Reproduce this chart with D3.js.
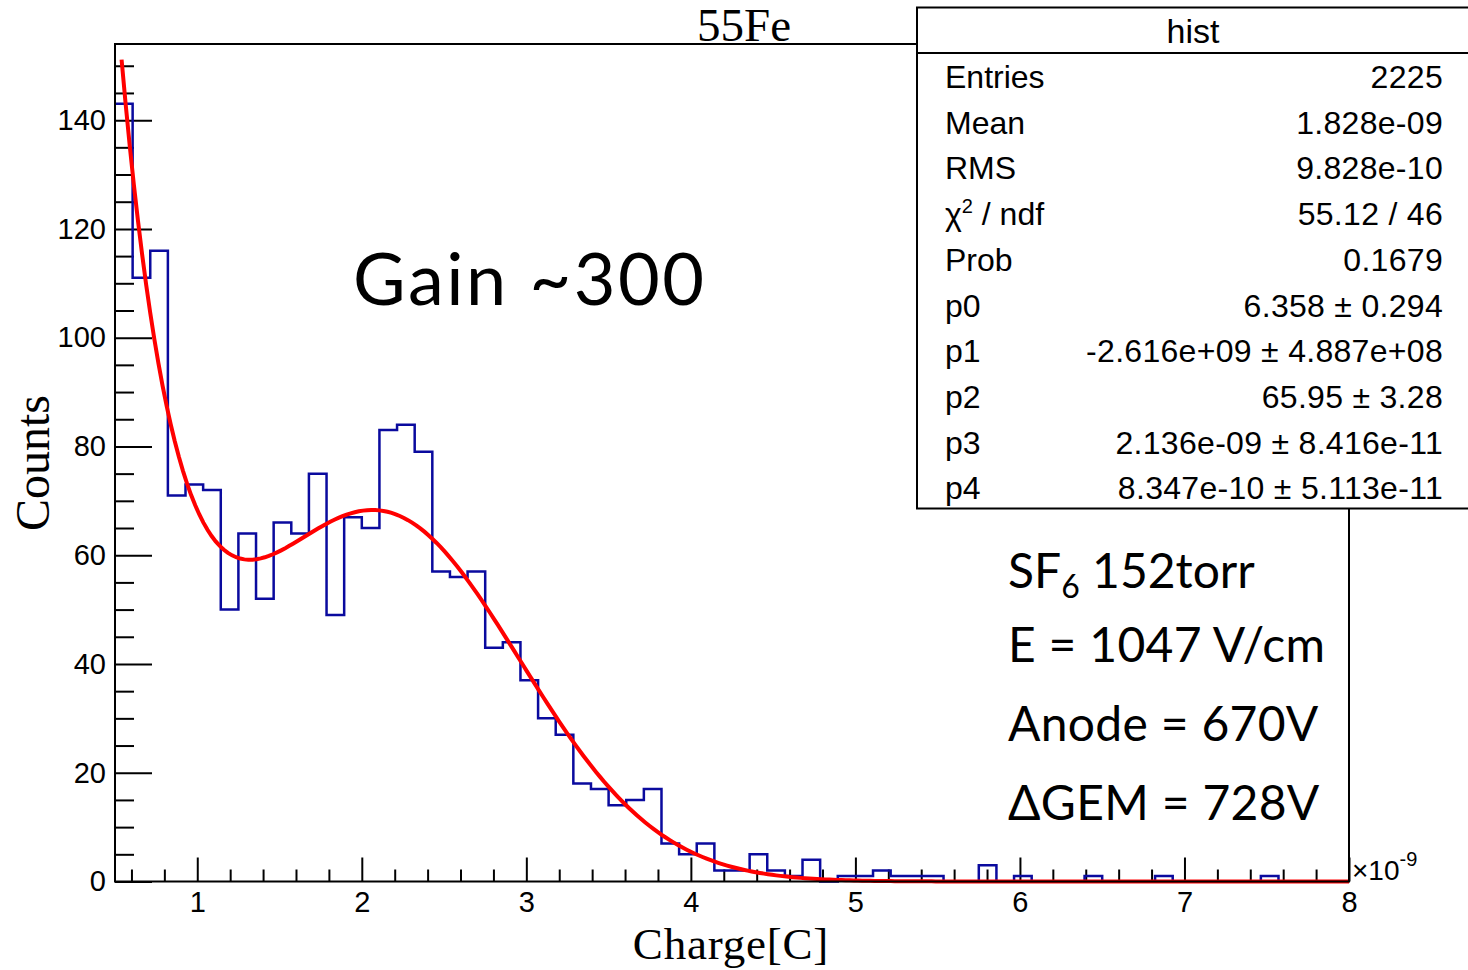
<!DOCTYPE html>
<html>
<head>
<meta charset="utf-8">
<script src="https://cdn.jsdelivr.net/npm/d3@7"></script>
<style>
  body { margin: 0; background: #fff; }
  .axis text { font-family: "Liberation Sans", Arial, sans-serif; font-size: 29px; fill: #000; }
  .axis line { stroke: #000; stroke-width: 2px; }
  .axis .domain { display: none; }
</style>
</head>
<body>
<div class="histogram"></div>
<script>
var totalWidth = 1468;
var totalHeight = 970;

var frame = { left: 115, top: 44, right: 1349, bottom: 881.5 };

// DATA STUFF
// bin contents, 70 equal bins from 0.5 to 8 (x 1e-9 C)
var counts = [
  143, 111, 116, 71, 73, 72, 50, 64, 52, 66,
  64, 75, 49, 67, 65, 83, 84, 79, 57, 56,
  57, 43, 44, 37, 30, 27, 18, 17, 14, 15,
  17, 7, 5, 7, 2, 2, 5, 2, 1, 4,
  0, 1, 1, 2, 1, 1, 1, 0, 0, 3,
  0, 1, 0, 0, 0, 1, 0, 0, 0, 1,
  0, 0, 0, 0, 0, 1, 0, 0, 0, 0
];
var binStart = 0.5;
var binEnd = 8;

// fit parameters from the stats box (expo + gaus), charge in units of 1e-9
var fitParams = [6.358, -2.616, 65.95, 2.136, 0.8347];
var fitRange = [0.54, 8];

var xMajorTicks = [1, 2, 3, 4, 5, 6, 7, 8];
var yMajorTicks = [0, 20, 40, 60, 80, 100, 120, 140];

var statsNames = ["Entries", "Mean", "RMS", "chi2", "Prob", "p0", "p1", "p2", "p3", "p4"];
var statsValues = [
  "2225", "1.828e-09", "9.828e-10", "55.12 / 46", "0.1679",
  "6.358 \u00b1 0.294", "-2.616e+09 \u00b1 4.887e+08", "65.95 \u00b1 3.28",
  "2.136e-09 \u00b1 8.416e-11", "8.347e-10 \u00b1 5.113e-11"
];

var notes = ["E = 1047 V/cm", "Anode = 670V", "\u0394GEM = 728V"];

var binWidth = (binEnd - binStart) / counts.length;

// SCALES
var xScale = d3.scaleLinear().domain([binStart, binEnd]).range([frame.left, frame.right]);
var yScale = d3.scaleLinear().domain([0, 154]).range([frame.bottom, frame.top]);

var svg = d3
  .select(".histogram")
  .append("svg")
  .attr("width", totalWidth)
  .attr("height", totalHeight)
  .style("background", "#fff");

// AXES
var xMinor = d3.range(0.6, 8.001, 0.2).filter(function(v) {
  return Math.abs(v - Math.round(v)) > 0.01;
});
var yMinor = d3.range(0, 151, 5).filter(function(v) { return v % 20 != 0; });

svg.append("g")
  .attr("class", "axis")
  .attr("transform", "translate(0," + frame.bottom + ")")
  .call(d3.axisBottom(xScale).tickValues(xMinor).tickSizeInner(-12).tickSizeOuter(0).tickFormat(""));

svg.append("g")
  .attr("class", "axis")
  .attr("transform", "translate(0," + frame.bottom + ")")
  .call(d3.axisBottom(xScale).tickValues(xMajorTicks).tickSizeInner(-24).tickSizeOuter(0).tickPadding(10))
  .call(function(g) {
    g.selectAll(".tick text").attr("dy", "0.71em");
  });

svg.append("g")
  .attr("class", "axis")
  .attr("transform", "translate(" + frame.left + ",0)")
  .call(d3.axisLeft(yScale).tickValues(yMinor).tickSizeInner(-19).tickSizeOuter(0).tickFormat(""));

svg.append("g")
  .attr("class", "axis")
  .attr("transform", "translate(" + frame.left + ",0)")
  .call(d3.axisLeft(yScale).tickValues(yMajorTicks).tickSizeInner(-37).tickSizeOuter(0).tickPadding(9));

// HISTOGRAM OUTLINE
var stepData = counts.map(function(c, i) {
  return { x: binStart + i * binWidth, y: c };
});
stepData.push({ x: binEnd, y: counts[counts.length - 1] });

svg.append("path")
  .datum(stepData)
  .attr("fill", "none")
  .attr("stroke", "#0a0a9e")
  .attr("stroke-width", 2.5)
  .attr("d", d3.line()
    .curve(d3.curveStepAfter)
    .x(function(d) { return xScale(d.x); })
    .y(function(d) { return yScale(d.y); }));

// FIT CURVE
function fitFunc(x) {
  var p = fitParams;
  var z = (x - p[3]) / p[4];
  return Math.exp(p[0] + p[1] * x) + p[2] * Math.exp(-0.5 * z * z);
}
var fitX = d3.range(0, 301).map(function(i) {
  return fitRange[0] + (fitRange[1] - fitRange[0]) * i / 300;
});

svg.append("path")
  .datum(fitX)
  .attr("fill", "none")
  .attr("stroke", "#ff0000")
  .attr("stroke-width", 4)
  .attr("d", d3.line()
    .x(function(d) { return xScale(d); })
    .y(function(d) { return yScale(fitFunc(d)); }));

// FRAME
svg.append("rect")
  .attr("x", frame.left)
  .attr("y", frame.top)
  .attr("width", frame.right - frame.left)
  .attr("height", frame.bottom - frame.top)
  .attr("fill", "none")
  .attr("stroke", "#000")
  .attr("stroke-width", 2);

// exponent label
var expo = svg.append("text")
  .attr("x", 1352)
  .attr("y", 880)
  .style("font-family", "Liberation Sans, Arial, sans-serif")
  .style("font-size", "28px");
expo.append("tspan").text("\u00d710");
expo.append("tspan").attr("dy", -14).style("font-size", "20px").text("-9");

// TITLES
svg.append("text")
  .attr("x", 744)
  .attr("y", 41)
  .attr("text-anchor", "middle")
  .style("font-family", "Liberation Serif, Times New Roman, serif")
  .style("font-size", "47px")
  .text("55Fe");

svg.append("text")
  .attr("x", 731)
  .attr("y", 959)
  .attr("text-anchor", "middle")
  .style("font-family", "Liberation Serif, Times New Roman, serif")
  .style("font-size", "45px")
  .style("letter-spacing", "0.8px")
  .text("Charge[C]");

svg.append("text")
  .attr("transform", "translate(49,463) rotate(-90)")
  .attr("text-anchor", "middle")
  .style("font-family", "Liberation Serif, Times New Roman, serif")
  .style("font-size", "48px")
  .text("Counts");

// ANNOTATIONS
var noteFont = "Lato, 'Noto Sans', sans-serif";

svg.append("text")
  .attr("x", 353)
  .attr("y", 305)
  .style("font-family", noteFont)
  .style("font-size", "72px")
  .style("letter-spacing", "2.5px")
  .text("Gain ~300");

var sf = svg.append("text")
  .attr("x", 1008)
  .attr("y", 588)
  .style("font-family", noteFont)
  .style("font-size", "48px");
sf.append("tspan").text("SF");
sf.append("tspan").attr("dy", 10).style("font-size", "32px").text("6");
sf.append("tspan").attr("dy", -10).text(" 152torr");

svg.selectAll(".note")
  .data(notes)
  .enter()
  .append("text")
  .attr("class", "note")
  .attr("x", 1008)
  .attr("y", function(d, i) { return 662 + i * 79; })
  .style("font-family", noteFont)
  .style("font-size", "48px")
  .style("letter-spacing", "0.3px")
  .text(function(d) { return d; });

// STATS BOX
var stats = svg.append("g").attr("id", "stats");

stats.append("rect")
  .attr("x", 917)
  .attr("y", 7.5)
  .attr("width", 553)
  .attr("height", 501)
  .attr("fill", "#fff")
  .attr("stroke", "#000")
  .attr("stroke-width", 2);

stats.append("line")
  .attr("x1", 917)
  .attr("x2", 1470)
  .attr("y1", 53)
  .attr("y2", 53)
  .attr("stroke", "#000")
  .attr("stroke-width", 2);

stats.append("text")
  .attr("x", 1193)
  .attr("y", 43)
  .attr("text-anchor", "middle")
  .style("font-family", "Liberation Sans, Arial, sans-serif")
  .style("font-size", "34px")
  .text("hist");

var rowStep = 45.7;

stats.selectAll(".sname")
  .data(statsNames)
  .enter()
  .append("text")
  .attr("class", "sname")
  .attr("x", 945)
  .attr("y", function(d, i) { return 88 + i * rowStep; })
  .style("font-family", "Liberation Sans, Arial, sans-serif")
  .style("font-size", "32px")
  .each(function(d) {
    var t = d3.select(this);
    if (d == "chi2") {
      t.append("tspan").text("\u03c7");
      t.append("tspan").attr("dy", -12).style("font-size", "20px").text("2");
      t.append("tspan").attr("dy", 12).text(" / ndf");
    } else {
      t.text(d);
    }
  });

stats.selectAll(".svalue")
  .data(statsValues)
  .enter()
  .append("text")
  .attr("class", "svalue")
  .attr("x", 1443)
  .attr("y", function(d, i) { return 88 + i * rowStep; })
  .attr("text-anchor", "end")
  .style("font-family", "Liberation Sans, Arial, sans-serif")
  .style("font-size", "32px")
  .style("letter-spacing", "0.3px")
  .text(function(d) { return d; });
</script>
</body>
</html>
